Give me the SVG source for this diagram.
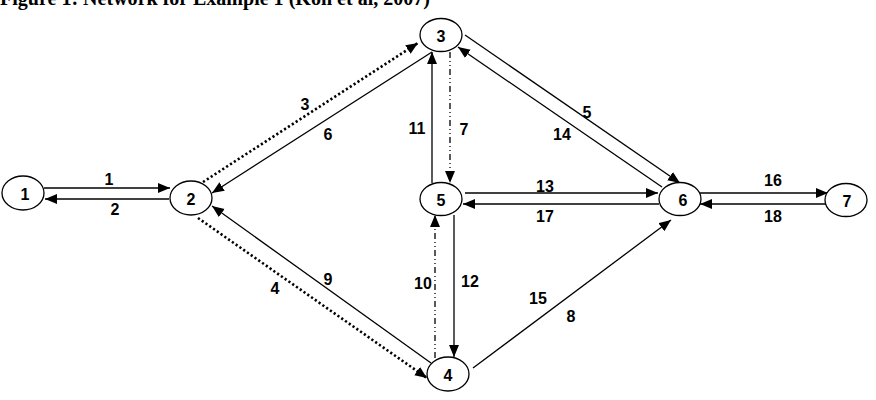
<svg xmlns="http://www.w3.org/2000/svg" width="876" height="400" viewBox="0 0 876 400">
<style>
.bg{fill:#fff}
.node ellipse{fill:#fff;stroke:#000;stroke-width:1.3}
.node text{font-family:"Liberation Sans",Arial,sans-serif;font-weight:bold;font-size:16px;text-anchor:middle;fill:#000}
.e{stroke:#000;stroke-width:1.3;fill:none;marker-end:url(#ah)}
.dot{stroke-width:2.6;stroke-dasharray:2.2 2.4}
.dd{stroke-dasharray:6 3 1 3 1 3}
.lbl{font-family:"Liberation Sans",Arial,sans-serif;font-weight:bold;font-size:16px;text-anchor:middle;fill:#000}
.title{font-family:"Liberation Serif","Times New Roman",serif;font-weight:bold;font-size:20px;fill:#000}
</style>
<defs>
<marker id="ah" markerUnits="userSpaceOnUse" markerWidth="13" markerHeight="11" refX="12" refY="5" orient="auto">
<path d="M0,0 L12,5 L0,10 z" fill="#000" stroke="none"/>
</marker>
</defs>
<rect class="bg" x="0" y="0" width="876" height="400"/>
<text class="title" x="0" y="5" textLength="430" lengthAdjust="spacingAndGlyphs">Figure 1: Network for Example 1 (Koh et al, 2007)</text>
<g id="connectors">
<line class="e" x1="44" y1="188" x2="170" y2="188"/>
<line class="e" x1="169" y1="199" x2="45" y2="199"/>
<line class="e dot" x1="203" y1="182" x2="418" y2="43"/>
<line class="e" x1="432" y1="52" x2="212" y2="193"/>
<line class="e" x1="432" y1="183" x2="432" y2="52"/>
<line class="e dd" x1="450" y1="52" x2="450" y2="183"/>
<line class="e" x1="465" y1="35" x2="680" y2="183"/>
<line class="e" x1="662" y1="187" x2="458" y2="47"/>
<line class="e" x1="465" y1="193" x2="658" y2="193"/>
<line class="e" x1="659" y1="204" x2="463" y2="204"/>
<line class="e" x1="700" y1="193" x2="828" y2="193"/>
<line class="e" x1="826" y1="204" x2="700" y2="204"/>
<line class="e dot" x1="198" y1="218" x2="427" y2="378"/>
<line class="e" x1="431" y1="363" x2="212" y2="206"/>
<line class="e dd" x1="435" y1="358" x2="435" y2="215"/>
<line class="e" x1="454" y1="215" x2="454" y2="357"/>
<line class="e" x1="473" y1="368" x2="671" y2="220"/>
</g>
<g id="labels">
<text class="lbl" x="109" y="185">1</text>
<text class="lbl" x="115" y="215">2</text>
<text class="lbl" x="305" y="110">3</text>
<text class="lbl" x="328" y="140">6</text>
<text class="lbl" x="417" y="134">11</text>
<text class="lbl" x="464" y="135">7</text>
<text class="lbl" x="587" y="118">5</text>
<text class="lbl" x="562" y="140">14</text>
<text class="lbl" x="545" y="192">13</text>
<text class="lbl" x="545" y="222">17</text>
<text class="lbl" x="773" y="186">16</text>
<text class="lbl" x="773" y="222">18</text>
<text class="lbl" x="275" y="294">4</text>
<text class="lbl" x="328" y="285">9</text>
<text class="lbl" x="423" y="289">10</text>
<text class="lbl" x="470" y="287">12</text>
<text class="lbl" x="538" y="304">15</text>
<text class="lbl" x="571" y="322">8</text>
</g>
<g id="node1" class="node"><ellipse cx="23" cy="193" rx="21" ry="17"/><text x="25" y="200">1</text></g>
<g id="node2" class="node"><ellipse cx="191" cy="198" rx="21" ry="17"/><text x="191" y="205">2</text></g>
<g id="node3" class="node"><ellipse cx="441" cy="35" rx="21" ry="16.5"/><text x="441" y="42">3</text></g>
<g id="node4" class="node"><ellipse cx="448" cy="374" rx="21" ry="17"/><text x="448" y="381">4</text></g>
<g id="node5" class="node"><ellipse cx="441" cy="199" rx="21" ry="16.5"/><text x="441" y="206">5</text></g>
<g id="node6" class="node"><ellipse cx="680" cy="199" rx="21" ry="16.5"/><text x="683" y="206">6</text></g>
<g id="node7" class="node"><ellipse cx="846" cy="200" rx="21" ry="16.5"/><text x="847" y="207">7</text></g>
</svg>
